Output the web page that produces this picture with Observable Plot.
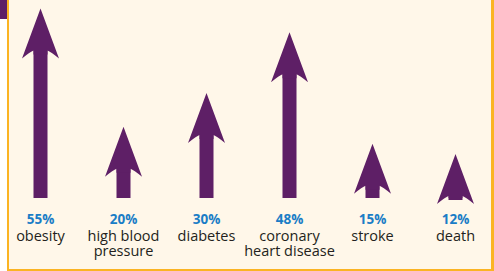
<!DOCTYPE html>
<html>
<head>
<meta charset="utf-8">
<script src="https://cdn.jsdelivr.net/npm/d3@7"></script>
<script src="https://cdn.jsdelivr.net/npm/@observablehq/plot@0.6"></script>
<style>
  html, body { margin: 0; padding: 0; background: #ffffff; }
  #wrap { position: relative; width: 494px; height: 271px; overflow: hidden; }
  #wrap svg { display: block; }
  .ov { position: absolute; }
</style>
</head>
<body>
<div id="wrap"></div>
<script>
const categories = ["obesity", "high blood\npressure", "diabetes", "coronary\nheart disease", "stroke", "death"];
const values = [55, 20, 30, 48, 15, 12];
const pctLabels = ["55%", "20%", "30%", "48%", "15%", "12%"];

const purple = "#5E1F66";
const blue = "#1A7DC6";
const cream = "#FFF7E9";
const orange = "#FBB423";

const data = categories.map((c, i) => ({category: c, value: values[i], pct: pctLabels[i]}));

// arrow head symbol: tip at the anchor point, barbed base below
const arrowHead = {
  draw(context) {
    context.moveTo(0, 0);
    context.lineTo(18.5, 50);
    context.quadraticCurveTo(10, 43, 7, 42);
    context.lineTo(7, 46);
    context.lineTo(-7, 46);
    context.lineTo(-7, 42);
    context.quadraticCurveTo(-10, 43, -18.5, 50);
    context.closePath();
  }
};

const chart = Plot.plot({
  width: 494,
  height: 271,
  marginLeft: 40,
  marginRight: 39,
  marginTop: 8,
  marginBottom: 77,
  style: {background: cream, fontFamily: "Open Sans"},
  x: {type: "point", domain: categories, padding: 0, axis: null},
  y: {domain: [0, 55], axis: null},
  marks: [
    Plot.ruleX(data, {x: "category", y1: "value", y2: 0, stroke: purple, strokeWidth: 14, insetTop: 40, insetBottom: -4}),
    Plot.dot(data, {x: "category", y: "value", symbol: arrowHead, r: 10, fill: purple, stroke: null}),
    Plot.text(data, {x: "category", y: 0, text: "pct", dy: 25.5, fill: blue, fontWeight: "bold", fontSize: 13.5, lineAnchor: "middle"}),
    Plot.text(data, {x: "category", y: 0, text: "category", dy: 36, fill: "#231F20", fontSize: 14.5, lineAnchor: "top", lineHeight: 1.04})
  ]
});

const wrap = document.getElementById("wrap");
wrap.appendChild(chart);
function ov(l, t, w, h, c) {
  const d = document.createElement("div");
  d.className = "ov";
  Object.assign(d.style, {left: l + "px", top: t + "px", width: w + "px", height: h + "px", background: c});
  wrap.appendChild(d);
}
ov(0, 0, 7, 271, "#ffffff");
ov(0, 0, 7, 19, purple);
ov(7, 0, 2, 271, orange);
ov(491, 0, 3, 271, orange);
ov(7, 269, 487, 2, orange);
</script>
</body>
</html>
